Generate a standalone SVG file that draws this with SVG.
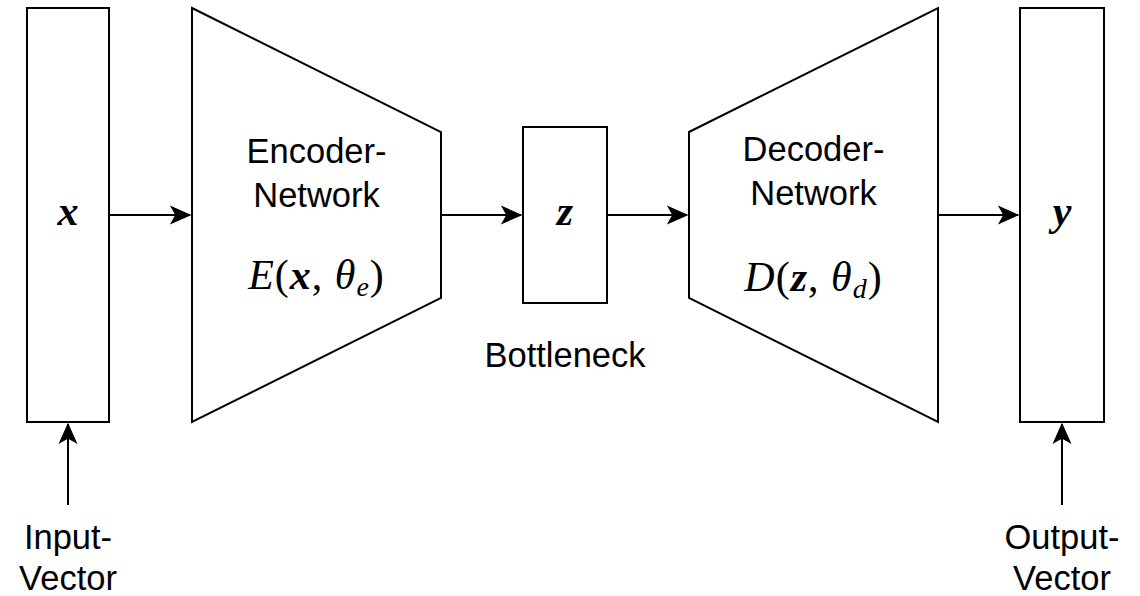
<svg xmlns="http://www.w3.org/2000/svg" width="1140" height="596" viewBox="0 0 1140 596">
<style>
.shape{fill:#fff;stroke:#000;stroke-width:2}
.edge{fill:none;stroke:#000;stroke-width:2}
.lbl{font-family:"Liberation Sans",Arial,sans-serif;font-size:34.5px;fill:#000;text-anchor:middle}
.math{font-family:"Liberation Serif","Times New Roman",serif;font-size:42px;fill:#000;text-anchor:middle}
.bi{font-weight:bold;font-style:italic}
.it{font-style:italic}
</style>
<defs>
<marker id="arr" markerUnits="userSpaceOnUse" markerWidth="22" markerHeight="20" viewBox="-20 -9 21 18" refX="0" refY="0" orient="auto">
<path d="M0,0 L-18,-8 L-13.5,0 L-18,8 Z" fill="#000" stroke="#000" stroke-width="1"/>
</marker>
</defs>
<rect width="1140" height="596" fill="#fff"/>
<g id="connectors">
<path class="edge" d="M109,215 L190,215" marker-end="url(#arr)"/>
<path class="edge" d="M441,215 L521,215" marker-end="url(#arr)"/>
<path class="edge" d="M607,215 L687,215" marker-end="url(#arr)"/>
<path class="edge" d="M938,215 L1018,215" marker-end="url(#arr)"/>
<path class="edge" d="M68,505 L68,424" marker-end="url(#arr)"/>
<path class="edge" d="M1062,505 L1062,424" marker-end="url(#arr)"/>
</g>
<g id="input">
<rect class="shape" x="27" y="8" width="82" height="414"/>
<text class="math bi" x="68" y="225">x</text>
</g>
<g id="encoder">
<polygon class="shape" points="192,8 441,132 441,298 192,422"/>
<text class="lbl" x="316.5" y="163">Encoder-</text>
<text class="lbl" x="316.5" y="207">Network</text>
<text class="math" x="316.5" y="289" letter-spacing="1"><tspan class="it">E</tspan>(<tspan class="bi">x</tspan>, <tspan class="it">θ</tspan><tspan class="it" font-size="28" dy="7">e</tspan><tspan dy="-7">)</tspan></text>
</g>
<g id="bottleneck">
<rect class="shape" x="523" y="127" width="84" height="176"/>
<text class="math bi" x="565" y="225">z</text>
<text class="lbl" x="565" y="367">Bottleneck</text>
</g>
<g id="decoder">
<polygon class="shape" points="689,132 938,8 938,422 689,298"/>
<text class="lbl" x="813.5" y="161">Decoder-</text>
<text class="lbl" x="813.5" y="205">Network</text>
<text class="math" x="813.5" y="291" letter-spacing="1"><tspan class="it">D</tspan>(<tspan class="bi">z</tspan>, <tspan class="it">θ</tspan><tspan class="it" font-size="28" dy="7">d</tspan><tspan dy="-7">)</tspan></text>
</g>
<g id="output">
<rect class="shape" x="1020" y="8" width="84" height="414"/>
<text class="math bi" x="1062" y="225">y</text>
</g>
<g id="input-label">
<text class="lbl" x="68" y="549">Input-</text>
<text class="lbl" x="68" y="590">Vector</text>
</g>
<g id="output-label">
<text class="lbl" x="1062" y="549">Output-</text>
<text class="lbl" x="1062" y="590">Vector</text>
</g>
</svg>
